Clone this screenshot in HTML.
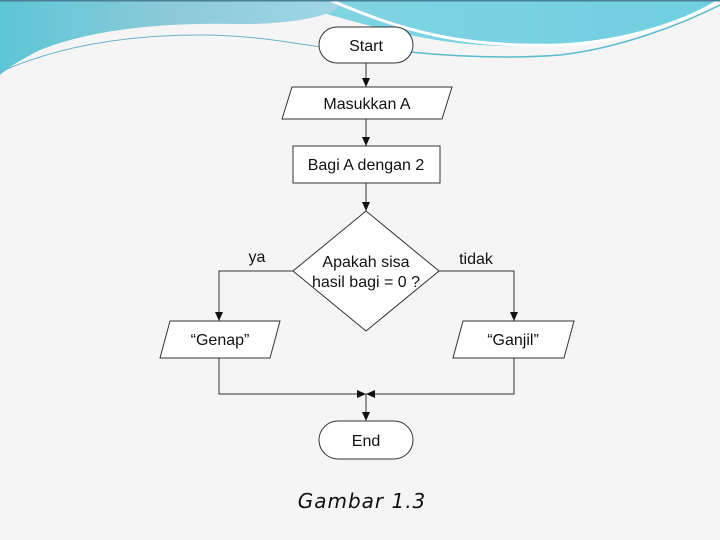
<!DOCTYPE html>
<html><head><meta charset="utf-8"><style>
html,body{margin:0;padding:0;background:#f5f5f5;}
svg{display:block}
</style></head><body>
<svg width="720" height="540" viewBox="0 0 720 540" xmlns="http://www.w3.org/2000/svg">
<defs>
<linearGradient id="g1" x1="0" y1="0" x2="1" y2="0">
<stop offset="0" stop-color="#5cc6d6"/><stop offset="0.5" stop-color="#8ccad8"/><stop offset="1" stop-color="#9fd6e6"/></linearGradient>
<linearGradient id="g2" x1="0" y1="0" x2="1" y2="0">
<stop offset="0" stop-color="#8ed8e4"/><stop offset="1" stop-color="#6fcfe0"/></linearGradient>
<marker id="a" markerWidth="10" markerHeight="10" refX="9" refY="5" orient="auto" markerUnits="userSpaceOnUse">
<path d="M0,1 L9,5 L0,9 Z" fill="#111"/></marker>
</defs>
<rect width="720" height="540" fill="#f5f5f5"/>
<path d="M0,0 H720 V0 C680,25 640,40 560,45 C470,50 420,40 330,15 C300,5 280,0 270,0 Z" fill="url(#g2)"/>
<path d="M0,0 H330 C360,10 300,25 240,24 C160,22 90,30 40,50 C20,60 8,68 0,75 Z" fill="url(#g1)"/>
<path d="M330,0 C400,30 460,48 560,45 C620,42 680,25 720,0" fill="none" stroke="#fff" stroke-width="3"/>
<path d="M0,72 C60,45 130,35 200,35 C260,35 300,45 330,48" fill="none" stroke="#6fb3c8" stroke-width="1"/>
<path d="M410,52 C470,58 520,58 560,55 C620,48 680,25 720,5" fill="none" stroke="#5bbccd" stroke-width="1.5"/>
<rect x="0" y="0" width="720" height="1.5" fill="#4a7f95"/>
<g stroke="#333" stroke-width="1" fill="#fff">
<rect x="319" y="27" width="94" height="36" rx="18"/>
<polygon points="292,87 452,87 442,119 282,119"/>
<rect x="293" y="146" width="147" height="37"/>
<polygon points="366,211 439,271 366,331 293,271"/>
<polygon points="170,321 280,321 270,358 160,358"/>
<polygon points="463,321 574,321 564,358 453,358"/>
<rect x="319" y="421" width="94" height="38" rx="19"/>
</g>
<g stroke="#333" stroke-width="1" fill="none">
<line x1="366" y1="63" x2="366" y2="87" marker-end="url(#a)"/>
<line x1="366" y1="119" x2="366" y2="146" marker-end="url(#a)"/>
<line x1="366" y1="183" x2="366" y2="211" marker-end="url(#a)"/>
<polyline points="293,271 219,271 219,321" marker-end="url(#a)"/>
<polyline points="439,271 514,271 514,321" marker-end="url(#a)"/>
<polyline points="219,358 219,394 366,394" marker-end="url(#a)"/>
<polyline points="514,358 514,394 366,394" marker-end="url(#a)"/>
<line x1="366" y1="394" x2="366" y2="421" marker-end="url(#a)"/>
</g>
<g font-family="Liberation Sans, sans-serif" font-size="16" fill="#111" text-anchor="middle">
<text x="366" y="51">Start</text>
<text x="367" y="109">Masukkan A</text>
<text x="366" y="170">Bagi A dengan 2</text>
<text x="366" y="267">Apakah sisa</text>
<text x="366" y="287">hasil bagi = 0 ?</text>
<text x="220" y="345">“Genap”</text>
<text x="513" y="345">“Ganjil”</text>
<text x="366" y="446">End</text>
<text x="257" y="262">ya</text>
<text x="476" y="264">tidak</text>
</g>
<text x="362" y="508" font-family="DejaVu Sans, sans-serif" font-style="italic" font-size="20" letter-spacing="1" fill="#111" text-anchor="middle">Gambar 1.3</text>
</svg>
</body></html>
